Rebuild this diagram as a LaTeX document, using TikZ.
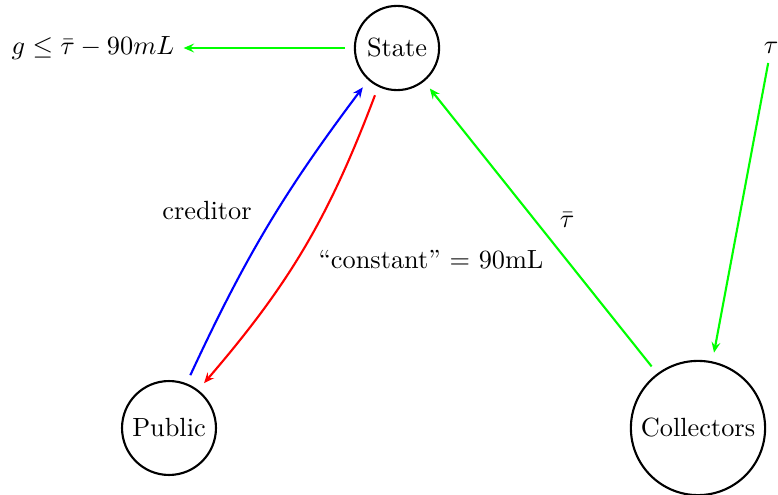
\documentclass[tikz,border=0pt]{standalone}
\usetikzlibrary{arrows.meta}
\begin{document}
\begin{tikzpicture}[x=0.38pt,y=-0.38pt,
  agent/.style={circle,draw,thick,inner sep=0pt,outer sep=3.8pt},
  flow/.style={thick,-{Stealth[length=4pt,width=3.4pt,inset=1.5pt]}}]
\useasboundingbox (0,0) rectangle (778,495);
\node[agent,minimum size=32pt] (State) at (397,48) {State};
\node[agent,minimum size=35.7pt] (Public) at (169,428) {Public};
\node[agent,minimum size=51pt] (Coll) at (698,428) {Collectors};
\node (g) at (93,48) {$g \leq \bar{\tau} - 90mL$};
\node (tau) at (771,48) {$\tau$};
\node (cred) at (207,211) {creditor};
\node (const) at (431,260) {``constant'' = 90mL};
\node (taubar) at (567,220) {$\bar{\tau}$};
\draw[flow,green] (State) -- (g);
\draw[flow,blue] (Public.68) to[bend left=6] (State.229);
\draw[flow,red] (State.245) to[bend left=10] (Public.52);
\draw[flow,green] (Coll.127) -- (State.-51.5);
\draw[flow,green] (tau) -- (Coll.78);
\end{tikzpicture}
\end{document}
